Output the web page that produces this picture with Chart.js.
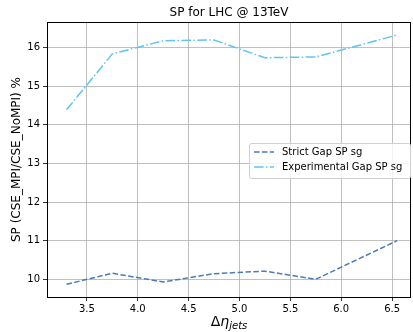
<!DOCTYPE html>
<html>
<head>
<meta charset="utf-8">
<script src="https://cdn.jsdelivr.net/npm/chart.js@4/dist/chart.umd.min.js"></script>
<style>
  html, body { margin: 0; padding: 0; background: #fff; }
  #wrap { width: 413px; height: 332px; }
</style>
</head>
<body>
<div id="wrap"><canvas id="chart-1"></canvas></div>
<script>
const etaBins = [3.3, 3.75, 4.25, 4.75, 5.25, 5.75, 6.55];
const strictGap = [9.87, 10.155, 9.93, 10.145, 10.21, 10.0, 11.0];
const expGap = [14.39, 15.84, 16.18, 16.2, 15.74, 15.76, 16.33];
const xTicks = [3.5, 4.0, 4.5, 5.0, 5.5, 6.0, 6.5];
const yTicks = [10, 11, 12, 13, 14, 15, 16];

const FONT = 'DejaVu Sans';

function pts(xs, ys) {
  return xs.map((x, i) => ({ x: x, y: ys[i] }));
}

// titles, full frame and a matplotlib-like legend inside the plot
const mplExtras = {
  id: 'mplExtras',
  afterDraw(chart) {
    const ctx = chart.ctx;
    const a = chart.chartArea;
    ctx.save();
    ctx.strokeStyle = '#000';
    ctx.lineWidth = 1;
    ctx.strokeRect(Math.round(a.left) + 0.5, Math.round(a.top) + 0.5,
      Math.round(a.right - a.left) - 1, Math.round(a.bottom - a.top));

    ctx.fillStyle = '#000';
    ctx.textAlign = 'center';
    ctx.textBaseline = 'alphabetic';
    ctx.font = '12px ' + FONT;
    ctx.fillText('SP for LHC @ 13TeV', (a.left + a.right) / 2, 16);

    ctx.save();
    ctx.translate(17, (a.top + a.bottom) / 2);
    ctx.rotate(-Math.PI / 2);
    ctx.textBaseline = 'middle';
    ctx.fillText('SP (CSE_MPI/CSE_NoMPI) %', 0, 0);
    ctx.restore();

    // x label: Delta eta_jets
    const base = 326;
    ctx.textAlign = 'left';
    ctx.font = '14px ' + FONT;
    const w1 = ctx.measureText('Δ').width;
    ctx.font = 'italic 14px ' + FONT;
    const w2 = ctx.measureText('η').width;
    ctx.font = 'italic 10px ' + FONT;
    const w3 = ctx.measureText('jets').width;
    let x0 = (a.left + a.right) / 2 - (w1 + w2 + w3) / 2;
    ctx.font = '14px ' + FONT;
    ctx.fillText('Δ', x0, base);
    ctx.font = 'italic 14px ' + FONT;
    ctx.fillText('η', x0 + w1, base);
    ctx.font = 'italic 10px ' + FONT;
    ctx.fillText('jets', x0 + w1 + w2, base + 3);

    // legend
    const lx = 249, ly = 143, lw = 161, lh = 35;
    ctx.fillStyle = 'rgba(255,255,255,0.8)';
    ctx.strokeStyle = '#d0d0d0';
    ctx.lineWidth = 1;
    ctx.beginPath();
    ctx.roundRect(lx + 0.5, ly + 0.5, lw, lh, 2);
    ctx.fill();
    ctx.stroke();
    ctx.font = '10px ' + FONT;
    ctx.textBaseline = 'middle';
    chart.data.datasets.forEach((ds, i) => {
      const yy = ly + 9 + i * 15;
      ctx.strokeStyle = ds.borderColor;
      ctx.lineWidth = ds.borderWidth;
      ctx.setLineDash(ds.borderDash);
      ctx.beginPath();
      ctx.moveTo(lx + 5, yy);
      ctx.lineTo(lx + 25, yy);
      ctx.stroke();
      ctx.setLineDash([]);
      ctx.fillStyle = '#000';
      ctx.fillText(ds.label, lx + 33, yy);
    });
    ctx.restore();
  }
};

const data = {
  datasets: [{
    label: 'Strict Gap SP sg',
    data: pts(etaBins, strictGap),
    borderColor: '#4a7db8',
    borderWidth: 1.5,
    borderDash: [5.5, 2.4],
    pointRadius: 0,
    tension: 0
  }, {
    label: 'Experimental Gap SP sg',
    data: pts(etaBins, expGap),
    borderColor: '#5cc6ee',
    borderWidth: 1.5,
    borderDash: [9.6, 2.4, 1.5, 2.4],
    pointRadius: 0,
    tension: 0
  }]
};

const config = {
  type: 'line',
  data: data,
  plugins: [mplExtras],
  options: {
    responsive: true,
    maintainAspectRatio: false,
    animation: false,
    layout: { padding: { left: 0, top: 22, right: 2, bottom: 0 } },
    plugins: {
      legend: { display: false },
      title: { display: false },
      tooltip: { enabled: false }
    },
    scales: {
      x: {
        type: 'linear',
        min: 3.108,
        max: 6.686,
        afterBuildTicks: s => { s.ticks = xTicks.map(v => ({ value: v })); },
        afterFit: s => { s.height = 35; },
        grid: { color: '#b0b0b0', lineWidth: 0.8, tickColor: '#000', tickLength: 4, drawTicks: true },
        border: { display: false },
        ticks: {
          color: '#000',
          padding: 2,
          maxRotation: 0,
          font: { family: FONT, size: 10 },
          callback: v => v.toFixed(1)
        }
      },
      y: {
        type: 'linear',
        min: 9.54,
        max: 16.666,
        afterBuildTicks: s => { s.ticks = yTicks.map(v => ({ value: v })); },
        afterFit: s => { s.width = 47; },
        grid: { color: '#b0b0b0', lineWidth: 0.8, tickColor: '#000', tickLength: 4, drawTicks: true },
        border: { display: false },
        ticks: {
          color: '#000',
          padding: 3,
          font: { family: FONT, size: 10 },
          callback: v => String(v)
        }
      }
    }
  }
};

const chart1 = new Chart(document.getElementById('chart-1'), config);
</script>
</body>
</html>
